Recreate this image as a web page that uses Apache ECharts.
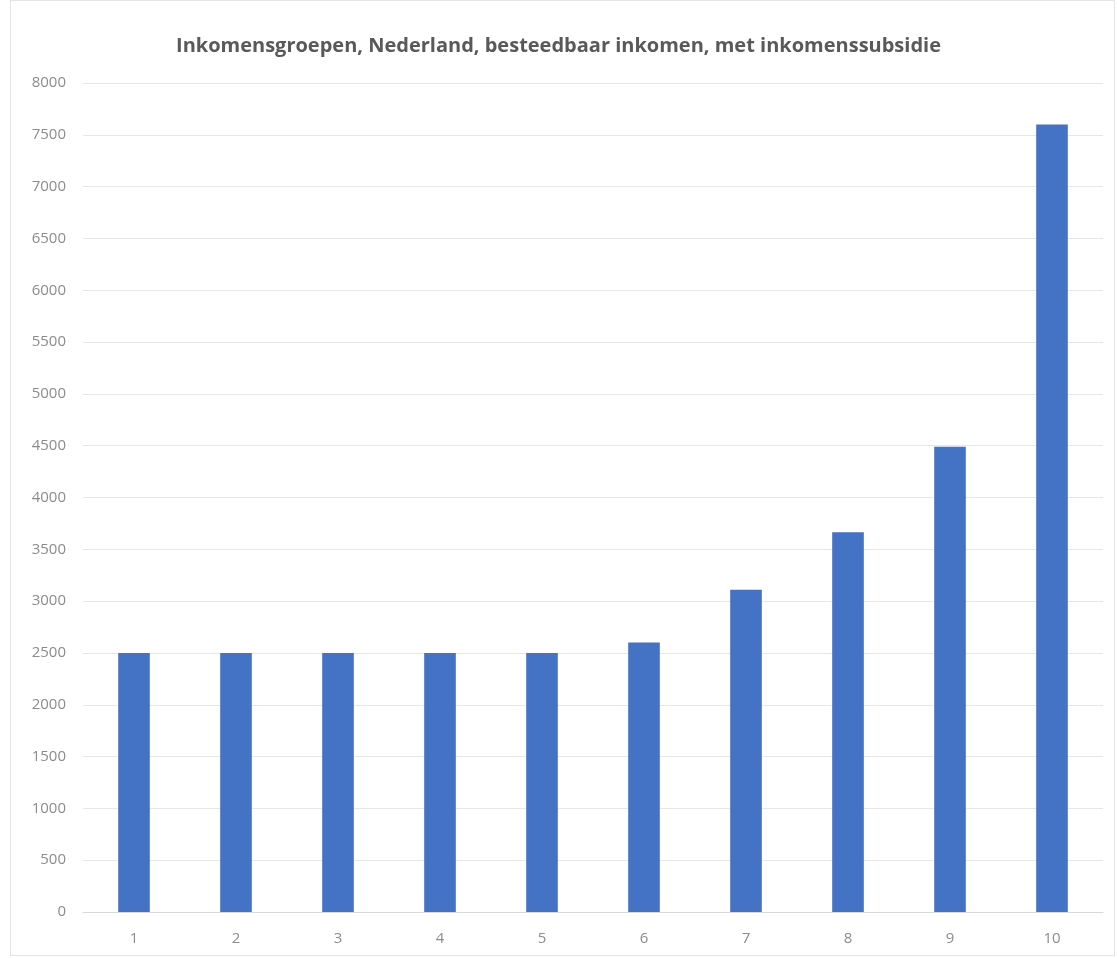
<!DOCTYPE html>
<html>
<head>
<meta charset="utf-8">
<script src="https://cdn.jsdelivr.net/npm/echarts@6/dist/echarts.min.js"></script>
<style>
html,body{margin:0;padding:0;background:#fff;}
#frame{position:absolute;left:10px;top:0;width:1105px;height:956px;border:1px solid #e4e4e4;box-sizing:border-box;}
#chart{position:absolute;left:0;top:0;width:1117px;height:958px;}
</style>
</head>
<body>
<div id="frame"></div>
<div id="chart"></div>
<script>
const titleText = 'Inkomensgroepen, Nederland, besteedbaar inkomen, met inkomenssubsidie';
const categories = ['1','2','3','4','5','6','7','8','9','10'];
const values = [2500, 2500, 2500, 2500, 2500, 2600, 3110, 3665, 4490, 7600];
const yMin = 0, yMax = 8000, yStep = 500;

const chart = echarts.init(document.getElementById('chart'), null, {renderer:'canvas'});
chart.setOption({
  backgroundColor: 'transparent',
  animation: false,
  title: {
    text: titleText,
    left: 'center',
    top: 31,
    textStyle: {fontFamily: 'Open Sans', fontSize: 20, fontWeight: 'bold', color: '#595959'}
  },
  grid: {left: 83, right: 14, top: 83, bottom: 46, containLabel: false},
  xAxis: {
    type: 'category',
    data: categories,
    axisTick: {show: false},
    axisLine: {lineStyle: {color: '#d9d9d9', width: 1}},
    axisLabel: {color: '#8c8c8c', fontSize: 15, fontFamily: 'Open Sans', margin: 19}
  },
  yAxis: {
    type: 'value',
    min: yMin, max: yMax, interval: yStep,
    axisLine: {show: false},
    axisTick: {show: false},
    splitLine: {lineStyle: {color: '#e6e6e6', width: 1}},
    axisLabel: {color: '#8c8c8c', fontSize: 15, fontFamily: 'Open Sans', margin: 17,
      formatter: function (v) { return String(v); }}
  },
  series: [{
    type: 'bar',
    data: values,
    barWidth: '31%',
    itemStyle: {color: '#4472C4'}
  }]
});
</script>
</body>
</html>
